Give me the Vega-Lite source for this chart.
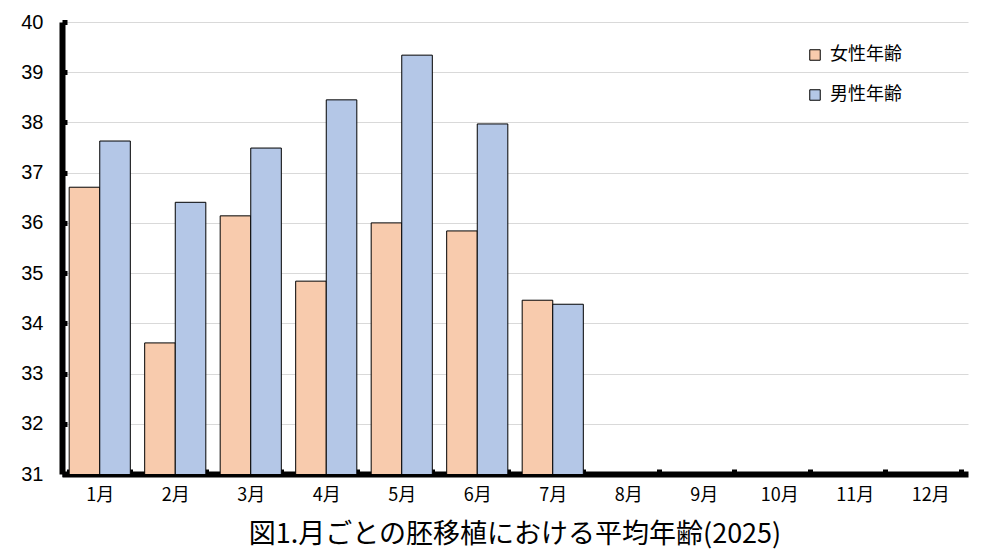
{
  "$schema": "https://vega.github.io/schema/vega-lite/v6.json",
  "width": 906,
  "height": 452,
  "autosize": "none",
  "padding": {"left": 62, "top": 22, "right": 18, "bottom": 86},
  "background": "white",
  "config": {
    "font": "Liberation Sans",
    "view": {"stroke": null}
  },
  "title": {
    "text": "図1.月ごとの胚移植における平均年齢(2025)",
    "orient": "bottom",
    "fontSize": 27,
    "fontWeight": "normal",
    "font": "Noto Sans CJK JP",
    "color": "black",
    "offset": 18,
    "anchor": "middle"
  },
  "data": {
    "values": [
      {"month": "1月", "series": "女性年齢", "age": 36.71},
      {"month": "1月", "series": "男性年齢", "age": 37.63},
      {"month": "2月", "series": "女性年齢", "age": 33.61},
      {"month": "2月", "series": "男性年齢", "age": 36.41},
      {"month": "3月", "series": "女性年齢", "age": 36.14},
      {"month": "3月", "series": "男性年齢", "age": 37.49},
      {"month": "4月", "series": "女性年齢", "age": 34.84},
      {"month": "4月", "series": "男性年齢", "age": 38.45},
      {"month": "5月", "series": "女性年齢", "age": 36.0},
      {"month": "5月", "series": "男性年齢", "age": 39.34},
      {"month": "6月", "series": "女性年齢", "age": 35.84},
      {"month": "6月", "series": "男性年齢", "age": 37.97},
      {"month": "7月", "series": "女性年齢", "age": 34.46},
      {"month": "7月", "series": "男性年齢", "age": 34.38}
    ]
  },
  "mark": {"type": "bar", "stroke": "black", "strokeWidth": 1, "clip": true},
  "encoding": {
    "x": {
      "field": "month",
      "type": "nominal",
      "scale": {
        "domain": ["1月", "2月", "3月", "4月", "5月", "6月", "7月", "8月", "9月", "10月", "11月", "12月"],
        "paddingInner": 0.19,
        "paddingOuter": 0.095
      },
      "axis": {
        "title": null,
        "labelAngle": 0,
        "labelFontSize": 18,
        "labelColor": "black",
        "labelPadding": 17,
        "domainColor": "black",
        "domainWidth": 6,
        "tickBand": "extent",
        "tickColor": "black",
        "tickWidth": 5,
        "tickSize": -5,
        "labelFont": "Noto Sans CJK JP"
      }
    },
    "xOffset": {"field": "series", "type": "nominal", "sort": ["女性年齢", "男性年齢"]},
    "y": {
      "field": "age",
      "type": "quantitative",
      "scale": {"domain": [31, 40], "zero": false, "nice": false},
      "axis": {
        "title": null,
        "values": [31, 32, 33, 34, 35, 36, 37, 38, 39, 40],
        "labelFontSize": 20,
        "labelFont": "Liberation Sans",
        "labelColor": "black",
        "labelPadding": 24,
        "domainColor": "black",
        "domainWidth": 6,
        "tickColor": "black",
        "tickWidth": 5,
        "tickSize": -5,
        "grid": true,
        "gridColor": "#d9d9d9",
        "gridWidth": 1
      }
    },
    "color": {
      "field": "series",
      "type": "nominal",
      "scale": {"domain": ["女性年齢", "男性年齢"], "range": ["#F8CBAD", "#B4C7E7"]},
      "legend": {
        "title": null,
        "orient": "none",
        "legendX": 744,
        "legendY": 24,
        "symbolType": "square",
        "symbolSize": 110,
        "symbolStrokeColor": "black",
        "symbolStrokeWidth": 1,
        "labelFontSize": 18,
        "labelFont": "Noto Sans CJK JP",
        "labelColor": "black",
        "rowPadding": 22,
        "labelOffset": 6
      }
    }
  }
}
